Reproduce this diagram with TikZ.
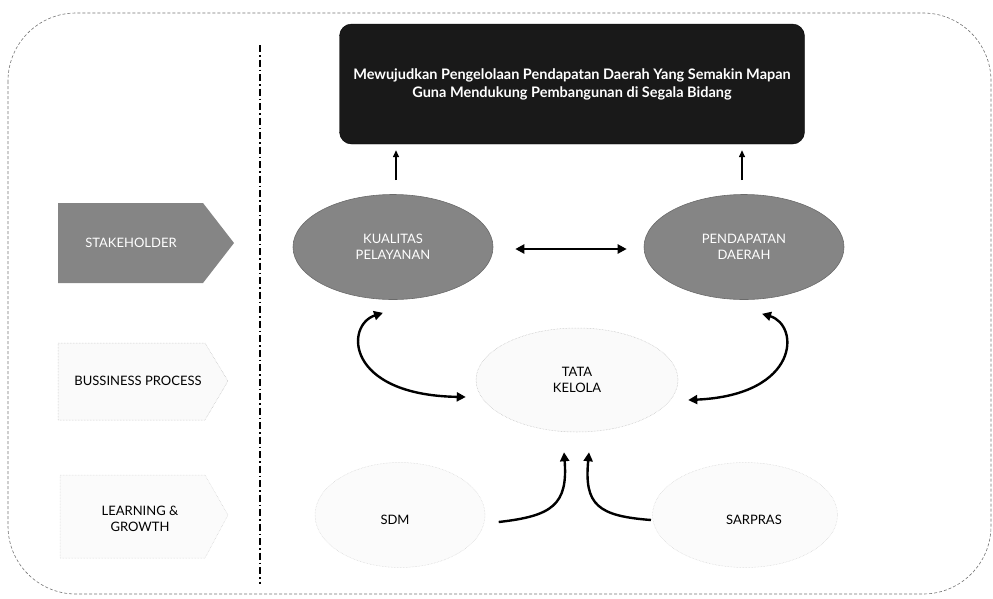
\documentclass[tikz,border=0pt]{standalone}
\usepackage{fontspec}
\setmainfont{Lato}
\usetikzlibrary{shapes.geometric,arrows.meta,calc}
\tikzset{
  lbl/.style={font=\fontsize{13}{15.5}\selectfont, align=center, inner sep=1pt},
  wlbl/.style={lbl, text=white},
  darkell/.style={ellipse, fill=black!48, draw=black!58, line width=0.6pt, minimum width=200pt, minimum height=105pt},
  faintell/.style={ellipse, draw=black!28, densely dotted, line width=0.5pt, fill=black!2},
  faintshape/.style={draw=black!28, densely dotted, line width=0.5pt, fill=black!2},
  thickarr/.style={line width=2.4pt, -{Triangle[length=9pt,width=9pt]}},
  thickdbl/.style={line width=2.4pt, {Triangle[length=9pt,width=9pt]}-{Triangle[length=9pt,width=9pt]}},
  thinarr/.style={line width=1.4pt, -{Triangle[length=7pt,width=6pt]}}
}
\begin{document}
\begin{tikzpicture}[x=1pt,y=-1pt]
\useasboundingbox (0,0) rectangle (993,598);
% outer frame
\draw[black!55, densely dashed, line width=0.6pt, rounded corners=68pt] (8,13) rectangle (991,594);
% separator
\draw[line width=1.3pt, dash pattern=on 7pt off 3pt on 1.5pt off 3pt] (260,45) -- (260,584);

% left column shapes
\fill[black!48] (58,203) -- (203,203) -- (234,243) -- (203,283) -- (58,283) -- cycle;
\node[wlbl] (stake) at (131,243) {STAKEHOLDER};
\path[faintshape] (58,343) -- (205,343) -- (228,381) -- (205,420) -- (58,420) -- cycle;
\node[lbl] (bp) at (138,381) {BUSSINESS PROCESS};
\path[faintshape, draw=black!20, fill=black!1.5] (60,475) -- (205,475) -- (228,515) -- (205,558) -- (60,558) -- cycle;
\node[lbl] (lg) at (140,519) {LEARNING \&\\GROWTH};

% top box
\node[fill=black!90, draw=black, rounded corners=12pt, minimum width=465pt, minimum height=120pt,
      font=\bfseries\fontsize{14.5}{18}\selectfont, text=white, align=center] (box) at (572,84)
  {Mewujudkan Pengelolaan Pendapatan Daerah Yang Semakin Mapan\\Guna Mendukung Pembangunan di Segala Bidang};

% perspectives
\node[darkell, wlbl] (kual) at (393,247) {KUALITAS\\PELAYANAN};
\node[darkell, wlbl] (pend) at (744,247) {PENDAPATAN\\DAERAH};
\node[faintell, minimum width=202pt, minimum height=104pt, lbl] (tata) at (577,380) {TATA\\KELOLA};
\node[faintell, draw=black!18, fill=black!1.5, minimum width=170pt, minimum height=105pt] (sdmshape) at (400,515) {};
\node[lbl] (sdm) at (395,520) {SDM};
\node[faintell, draw=black!18, fill=black!1.5, minimum width=185pt, minimum height=105pt] (sarshape) at (745,515) {};
\node[lbl] (sarpras) at (754,520) {SARPRAS};

% arrows
\draw[thinarr] ($(kual.north)+(3,-14)$) -- ($(box.south)+(-176,6)$);
\draw[thinarr] ($(pend.north)+(-2,-14)$) -- ($(box.south)+(170,6)$);
\draw[thickdbl] ($(kual.east)+(22,2)$) -- ($(pend.west)+(-17,2)$);
\draw[thickdbl] ($(kual.south)+(-10,13)$) .. controls (345,325) and (345,395) .. ($(tata.west)+(-10,17)$);
\draw[thickdbl] ($(pend.south)+(18,14)$) .. controls (800,325) and (800,395) .. ($(tata.east)+(10,20)$);
\draw[thickarr] ($(sdm.east)+(88,2)$) .. controls (552,516) and (568,505) .. ($(tata.south)+(-13,20)$);
\draw[thickarr] ($(sarpras.west)+(-74,0)$) .. controls (598,516) and (584,505) .. ($(tata.south)+(12,20)$);
\end{tikzpicture}
\end{document}
